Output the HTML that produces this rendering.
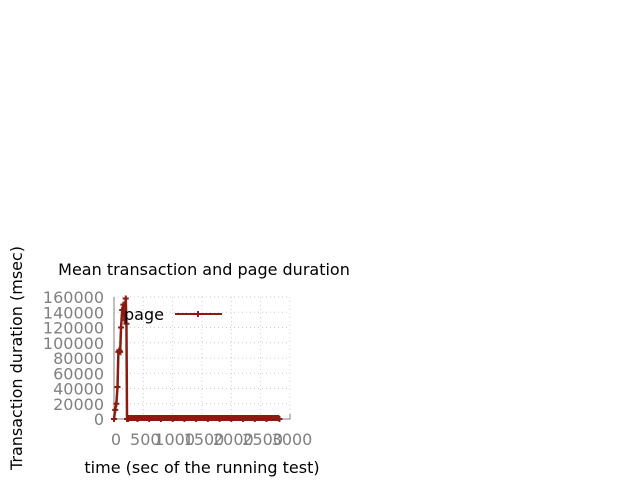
<!DOCTYPE html>
<html><head><meta charset="utf-8"><style>
body{margin:0;background:#fff;width:640px;height:480px;overflow:hidden}
svg{font-family:"DejaVu Sans","Liberation Sans",sans-serif}
</style></head><body>
<svg id="chart" width="640" height="480"></svg>
<script>
const times=[0,20,40,60,75,90,105,120,140,160,180,200,212,222,240,400,600,800,1000,1200,1400,1600,1800,2000,2200,2400,2600,2820];
const values=[0,12000,20000,42000,88000,90000,88000,120000,143000,150000,130000,158000,125000,0,0,0,0,0,0,0,0,0,0,0,0,0,0,0];
const xTicks=[0,500,1000,1500,2000,2500,3000];
const yTicks=[0,20000,40000,60000,80000,100000,120000,140000,160000];
const NS="http://www.w3.org/2000/svg";
const svg=document.getElementById('chart');
const X0=114,X1=290,Y0=419,Y1=297;
const xs=v=>X0+(v/3000)*(X1-X0);
const ys=v=>Y0-(v/160000)*(Y0-Y1);
const C='#8b1a10';
function mk(t,a,p){const e=document.createElementNS(NS,t);for(const k in a)e.setAttribute(k,a[k]);(p||svg).appendChild(e);return e;}
xTicks.forEach(t=>{if(t>0){const g=mk('line',{x1:xs(t),x2:xs(t),y1:Y1,y2:Y0,stroke:'#ccc','stroke-dasharray':'1,3'});

}
const tl=mk('text',{x:xs(t)+2,y:445,'text-anchor':'middle','font-size':16,fill:'#808080'});tl.textContent=t;

});
yTicks.forEach(t=>{if(t>0){const g=mk('line',{x1:X0,x2:X1,y1:ys(t),y2:ys(t),stroke:'#ccc','stroke-dasharray':'1,3'});

}
const tl=mk('text',{x:104,y:ys(t)+6,'text-anchor':'end','font-size':16,fill:'#808080'});tl.textContent=t;

});
const ax=mk('path',{d:`M${X0},${Y1}V${Y0}H${X1}V${Y0-5}`,fill:'none',stroke:'#808080'});


const pts=times.map((t,i)=>xs(t)+','+ys(values[i])).join(' ');
const line=mk('polyline',{points:pts,fill:'none',stroke:C,'stroke-width':2.5});


const band=mk('line',{x1:xs(222),x2:xs(2820),y1:Y0-1,y2:Y0-1,stroke:C,'stroke-width':6});


times.forEach((t,i)=>{const m=mk('path',{d:`M${xs(t)-3},${ys(values[i])}h6M${xs(t)},${ys(values[i])-3}v6`,stroke:C,'stroke-width':2});

});
const lt=mk('text',{x:124,y:320,'font-size':16,fill:'#000'});lt.textContent='page';


const ll=mk('path',{d:'M175,314H222M195,314h6M198,311v6',stroke:C,'stroke-width':2});


const ti=mk('text',{x:204,y:275,'text-anchor':'middle','font-size':16});ti.textContent='Mean transaction and page duration';


const xt=mk('text',{x:202,y:473,'text-anchor':'middle','font-size':16});xt.textContent='time (sec of the running test)';


const yt=mk('text',{x:0,y:0,'text-anchor':'middle','font-size':16,transform:'translate(22,358) rotate(-90)'});yt.textContent='Transaction duration (msec)';


</script>
</body></html>
